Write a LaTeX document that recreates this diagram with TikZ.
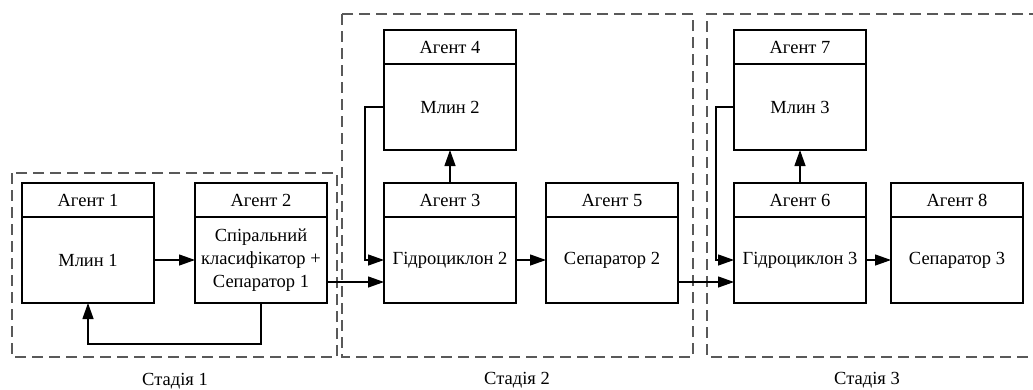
\documentclass[tikz,border=0pt]{standalone}
\usepackage{fontspec}
\setmainfont{Liberation Serif}
\usepackage{tikz}
\usetikzlibrary{arrows.meta, positioning}
\tikzset{body/.style = {shape = rectangle, draw, line width = 1.3pt, outer sep = 0pt, minimum width = 132pt, minimum height = 86pt, align = center, inner sep = 2pt, font = \fontsize{18.5}{23}\selectfont}}
\tikzset{head/.style = {body, minimum height = 34pt}}
\tikzset{stage/.style = {draw = black!65, line width = 1.5pt, dash pattern = on 11pt off 6pt}}
\tikzset{edge/.style = {-{Triangle[length = 16pt, width = 11pt]}, line width = 1.3pt}}
\tikzset{label/.style = {font = \fontsize{18.5}{22}\selectfont}}

\begin{document}
\begin{tikzpicture}[x = 1pt, y = -1pt]
				\useasboundingbox (0, 0) rectangle (1033, 389);

				% stage frames
				\draw[stage] (12, 173) rectangle (337, 357);
				\draw[stage] (342, 14) rectangle (693, 357);
				\draw[stage] (1040, 14) -- (707, 14) -- (707, 357) -- (1040, 357);

				\node[label] (s1) at (175, 381) {Стадія 1};
				\node[label] (s2) at (517, 380) {Стадія 2};
				\node[label] (s3) at (867, 380) {Стадія 3};

				% agents
				\node[body] (a1) at (88, 260) {Млин 1};
				\node[head, above = 0pt of a1] (h1) {Агент 1};
				\node[body] (a2) at (261, 260) {Спіральний\\класифікатор +\\Сепаратор 1};
				\node[head, above = 0pt of a2] (h2) {Агент 2};
				\node[body] (a3) at (450, 260) {Гідроциклон 2};
				\node[head, above = 0pt of a3] (h3) {Агент 3};
				\node[body] (a4) at (450, 107) {Млин 2};
				\node[head, above = 0pt of a4] (h4) {Агент 4};
				\node[body] (a5) at (612, 260) {Сепаратор 2};
				\node[head, above = 0pt of a5] (h5) {Агент 5};
				\node[body] (a6) at (800, 260) {Гідроциклон 3};
				\node[head, above = 0pt of a6] (h6) {Агент 6};
				\node[body] (a7) at (800, 107) {Млин 3};
				\node[head, above = 0pt of a7] (h7) {Агент 7};
				\node[body] (a8) at (957, 260) {Сепаратор 3};
				\node[head, above = 0pt of a8] (h8) {Агент 8};

				% flows
				\draw[edge] (a1) to (a2);
				\draw[edge] (a2.south) -- ++(0, 41) -| (a1.south);
				\draw[edge] ([yshift = -22pt]a2.east) to ([yshift = -22pt]a3.west);
				\draw[edge] (h3.north) to (a4.south);
				\draw[edge] (a4.west) -- ++(-19, 0) |- (a3.west);
				\draw[edge] (a3) to (a5);
				\draw[edge] ([yshift = -22pt]a5.east) to ([yshift = -22pt]a6.west);
				\draw[edge] (h6.north) to (a7.south);
				\draw[edge] (a7.west) -- ++(-18, 0) |- (a6.west);
				\draw[edge] (a6) to (a8);
			\end{tikzpicture}
\end{document}
